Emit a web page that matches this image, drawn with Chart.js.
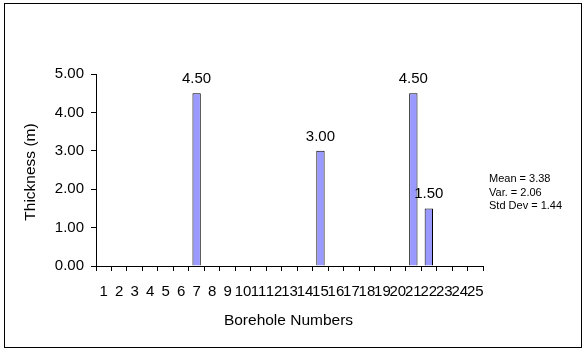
<!DOCTYPE html>
<html>
<head>
<meta charset="utf-8">
<script src="https://cdn.jsdelivr.net/npm/chart.js@4/dist/chart.umd.min.js"></script>
<style>
html,body{margin:0;padding:0;background:#fff;}
canvas{display:block;}
</style>
</head>
<body>
<canvas id="c" width="583" height="351"></canvas>
<script>
const categories = ['1','2','3','4','5','6','7','8','9','10','11','12','13','14','15','16','17','18','19','20','21','22','23','24','25'];
const thickness = [null,null,null,null,null,null,4.5,null,null,null,null,null,null,null,3.0,null,null,null,null,null,4.5,1.5,null,null,null];
const yMin = 0, yMax = 5, yStep = 1;
const yTitle = 'Thickness (m)';
const xTitle = 'Borehole Numbers';
const statsLines = ['Mean = 3.38', 'Var. = 2.06', 'Std Dev = 1.44'];

const FONT = 'Liberation Sans, Arial, sans-serif';

const extras = {
  id: 'extras',
  afterDatasetsDraw(chart) {
    const ctx = chart.ctx;
    const meta = chart.getDatasetMeta(0);
    ctx.save();
    ctx.fillStyle = '#000';
    ctx.font = '15px ' + FONT;
    ctx.textAlign = 'center';
    ctx.textBaseline = 'alphabetic';
    meta.data.forEach((bar, i) => {
      const v = thickness[i];
      if (v === null || v === undefined) return;
      ctx.fillText(v.toFixed(2), bar.x, bar.y - 10);
    });
    ctx.restore();
  },
  afterDraw(chart) {
    const ctx = chart.ctx;
    ctx.save();
    ctx.fillStyle = '#000';
    ctx.font = '15.5px ' + FONT;
    ctx.textAlign = 'center';
    ctx.textBaseline = 'middle';
    const ca = chart.chartArea;
    ctx.fillText(xTitle, (ca.left + ca.right) / 2 - 1, 321);
    ctx.save();
    ctx.translate(31, (ca.top + ca.bottom) / 2 + 2);
    ctx.rotate(-Math.PI / 2);
    ctx.fillText(yTitle, 0, 0);
    ctx.restore();
    ctx.font = '11px ' + FONT;
    ctx.textAlign = 'left';
    ctx.textBaseline = 'alphabetic';
    statsLines.forEach((s, i) => ctx.fillText(s, 489, 182 + i * 13.5));
    ctx.strokeStyle = '#000';
    ctx.lineWidth = 1;
    ctx.strokeRect(4.5, 3.5, 577, 344);
    ctx.restore();
  }
};

new Chart(document.getElementById('c'), {
  type: 'bar',
  data: {
    labels: categories,
    datasets: [{
      data: thickness,
      backgroundColor: '#9999FF',
      borderColor: '#000',
      borderWidth: 1,
      barPercentage: 0.54,
      categoryPercentage: 1.0
    }]
  },
  options: {
    responsive: false,
    animation: false,
    devicePixelRatio: 1,
    layout: { padding: { left: 0, top: 74, right: 100, bottom: 0 } },
    plugins: { legend: { display: false }, tooltip: { enabled: false }, title: { display: false } },
    scales: {
      x: {
        offset: true,
        grid: { offset: true, drawOnChartArea: false, drawTicks: true, tickLength: 5, color: '#000', lineWidth: 1 },
        border: { color: '#000', width: 1 },
        ticks: { autoSkip: false, maxRotation: 0, minRotation: 0, color: '#000', font: { family: FONT, size: 15 }, padding: 12 },
        afterFit(scale) { scale.height = 85; }
      },
      y: {
        min: yMin, max: yMax,
        grid: { drawOnChartArea: false, drawTicks: true, tickLength: 5, color: '#000', lineWidth: 1 },
        border: { color: '#000', width: 1 },
        ticks: { stepSize: yStep, color: '#000', font: { family: FONT, size: 15 }, padding: 7, callback: v => Number(v).toFixed(2) },
        afterFit(scale) { scale.width = 96; }
      }
    }
  },
  plugins: [extras]
});
</script>
</body>
</html>
